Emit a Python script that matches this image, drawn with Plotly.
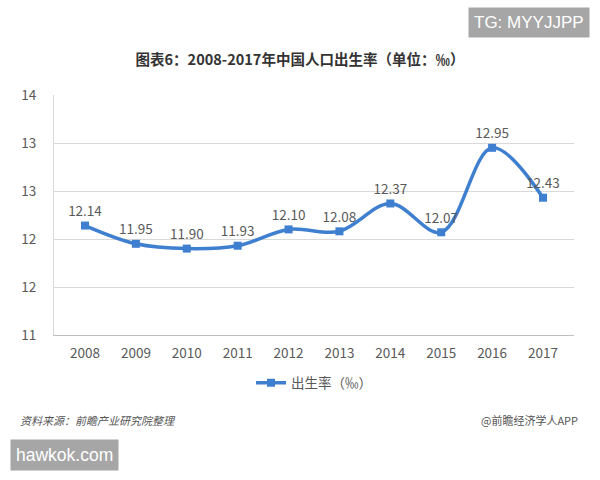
import plotly.graph_objects as go

years = ["2008", "2009", "2010", "2011", "2012", "2013", "2014", "2015", "2016", "2017"]
rates = [12.14, 11.95, 11.90, 11.93, 12.10, 12.08, 12.37, 12.07, 12.95, 12.43]
label_text = ["12.14", "11.95", "11.90", "11.93", "12.10", "12.08", "12.37", "12.07", "12.95", "12.43"]
y_tickvals = [11, 11.5, 12, 12.5, 13, 13.5]
y_ticktext = ["11", "12", "12", "13", "13", "14"]

FONT = "Noto Sans CJK SC"
BLUE = "#3f7fd0"

fig = go.Figure()
fig.add_trace(go.Scatter(
    x=years, y=rates, mode="lines+markers+text",
    name="出生率（‰）",
    line=dict(color=BLUE, width=3.5, shape="spline", smoothing=1.0),
    marker=dict(symbol="square", size=8, color=BLUE),
    text=label_text, textposition="top center",
    textfont=dict(family=FONT, size=13.5, color="#595959"),
    cliponaxis=False,
))

fig.update_layout(
    width=600, height=480,
    margin=dict(l=54, r=26, t=95, b=145),
    paper_bgcolor="white", plot_bgcolor="white",
    font=dict(family=FONT, color="#595959"),
    title=dict(text="<b>图表6：2008-2017年中国人口出生率（单位：‰）</b>",
               x=0.5, xanchor="center", y=1 - 60 / 480, yanchor="middle",
               font=dict(family=FONT, size=14.5, color="#333333")),
    xaxis=dict(type="category", showgrid=False, showline=True, linecolor="#bfbfbf",
               ticks="", ticklabelstandoff=6, tickfont=dict(size=13.5, color="#595959")),
    yaxis=dict(range=[11, 13.5], tickvals=y_tickvals, ticktext=y_ticktext,
               showgrid=True, gridcolor="#d9d9d9", gridwidth=1, zeroline=False,
               showline=True, linecolor="#d9d9d9", ticks="", ticklabelstandoff=14,
               tickfont=dict(size=13.5, color="#595959")),
    showlegend=True,
    legend=dict(orientation="h", x=0.5, xanchor="center", y=-(383 - 335) / 240, yanchor="middle",
                font=dict(family=FONT, size=13.5, color="#595959")),
)

fig.add_annotation(xref="paper", yref="paper", x=-54 / 520 + 18 / 520, y=-(420 - 335) / 240,
                   xanchor="left", yanchor="middle", showarrow=False,
                   text="<i>资料来源：前瞻产业研究院整理</i>",
                   font=dict(family=FONT, size=11, color="#555555"))
fig.add_annotation(xref="paper", yref="paper", x=(580 - 54) / 520, y=-(420 - 335) / 240,
                   xanchor="right", yanchor="middle", showarrow=False,
                   text="@前瞻经济学人APP",
                   font=dict(family=FONT, size=11, color="#555555"))
fig.add_annotation(xref="paper", yref="paper", x=(10 - 54) / 520, y=-(455 - 335) / 240,
                   xanchor="left", yanchor="middle", showarrow=False,
                   text="hawkok.com", bgcolor="#a6a6a6", borderpad=5,
                   font=dict(family="Liberation Sans", size=17.5, color="white"))
fig.add_annotation(xref="paper", yref="paper", x=(590 - 54) / 520, y=(335 - 23) / 240,
                   xanchor="right", yanchor="middle", showarrow=False,
                   text="TG: MYYJJPP", bgcolor="#a6a6a6", borderpad=5,
                   font=dict(family="Liberation Sans", size=17, color="white"))

fig.write_html("out.html")
